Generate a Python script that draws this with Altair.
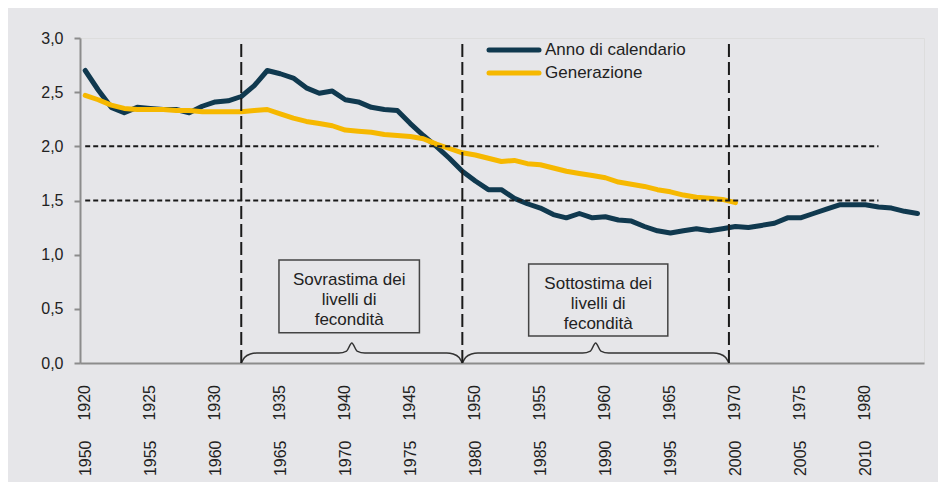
import altair as alt
import pandas as pd

# ---------------- data ----------------
series_names = ["Anno di calendario", "Generazione"]
series_colors = ["#10394f", "#f6b800"]

cal_years = list(range(1950, 2015))
cal_values = [2.70, 2.52, 2.36, 2.31, 2.36, 2.35, 2.34, 2.34, 2.31, 2.37,
              2.41, 2.42, 2.46, 2.56, 2.70, 2.67, 2.63, 2.54, 2.49, 2.51,
              2.43, 2.41, 2.36, 2.34, 2.33, 2.21, 2.10, 2.00, 1.89, 1.77,
              1.68, 1.60, 1.60, 1.52, 1.47, 1.43, 1.37, 1.34, 1.38, 1.34,
              1.35, 1.32, 1.31, 1.26, 1.22, 1.20, 1.22, 1.24, 1.22, 1.24,
              1.26, 1.25, 1.27, 1.29, 1.34, 1.34, 1.38, 1.42, 1.46, 1.46,
              1.46, 1.44, 1.43, 1.40, 1.38]

gen_cohorts = list(range(1920, 1971))
gen_values = [2.47, 2.43, 2.38, 2.35, 2.34, 2.34, 2.34, 2.33, 2.33, 2.32,
              2.32, 2.32, 2.32, 2.33, 2.34, 2.30, 2.26, 2.23, 2.21, 2.19,
              2.15, 2.14, 2.13, 2.11, 2.10, 2.09, 2.07, 2.02, 1.98, 1.94,
              1.92, 1.89, 1.86, 1.87, 1.84, 1.83, 1.80, 1.77, 1.75, 1.73,
              1.71, 1.67, 1.65, 1.63, 1.60, 1.58, 1.55, 1.53, 1.52, 1.51,
              1.48]
cohort_lag = 30  # cohort plotted at calendar year cohort + 30

cal_ticks = [1950, 1955, 1960, 1965, 1970, 1975, 1980, 1985, 1990, 1995, 2000, 2005, 2010]
gen_ticks = [1920, 1925, 1930, 1935, 1940, 1945, 1950, 1955, 1960, 1965, 1970, 1975, 1980]
y_ticks = [0.0, 0.5, 1.0, 1.5, 2.0, 2.5, 3.0]

ref_levels = [2.0, 1.5]
ref_span = [1950, 2011]
period_bounds = [1962, 1979, 1999.5]

box_texts = ["Sovrastima dei\nlivelli di\nfecondità", "Sottostima dei\nlivelli di\nfecondità"]
box_x = [(1964.9, 1975.7), (1984.1, 1994.8)]
box_y = [(0.28, 0.95), (0.25, 0.915)]
box_text_y = [0.766, 0.729]

# ---------------- layout / style ----------------
W, H = 844, 325
FONT = "Liberation Sans"
TXT = "#222222"
AX = "#8c8c8c"
BG = "#e6e6e9"
x_scale = alt.Scale(domain=[1949.6, 2014.5], nice=False, zero=False)
y_scale = alt.Scale(domain=[0, 3], nice=False)

cal_df = pd.DataFrame({"x": cal_years, "value": cal_values, "series": series_names[0]})
gen_df = pd.DataFrame({"x": [c + cohort_lag for c in gen_cohorts], "value": gen_values,
                       "series": series_names[1]})

x_axis = alt.Axis(values=cal_ticks, format="d", labelAngle=270, labelAlign="right",
                  labelBaseline="middle", labelPadding=77, ticks=False, tickSize=0,
                  domainColor=AX, domainWidth=2, grid=False, title=None,
                  labelFont=FONT, labelFontSize=16, labelColor=TXT, labelOverlap=False,
                  labelFlush=False, labelBound=False)
y_axis = alt.Axis(values=y_ticks, labelExpr="replace(format(datum.value, '.1f'), '.', ',')",
                  tickSize=6, tickColor=AX, tickWidth=2, domainColor=AX, domainWidth=2,
                  labelPadding=11, grid=False, title=None, labelFont=FONT,
                  labelFontSize=16, labelColor=TXT)


def X(field, **kw):
    return alt.X(field, scale=x_scale, title=None, **kw)


def Y(field, **kw):
    return alt.Y(field, scale=y_scale, title=None, **kw)


cal_line = alt.Chart(cal_df).mark_line(strokeWidth=5, color=series_colors[0],
                                       strokeJoin="round", strokeCap="round").encode(
    x=X("x:Q", axis=x_axis),
    y=Y("value:Q", axis=y_axis),
)
gen_line = alt.Chart(gen_df).mark_line(strokeWidth=5, color=series_colors[1],
                                       strokeJoin="round", strokeCap="round").encode(
    x=X("x:Q"),
    y=Y("value:Q"),
)

# second row of x labels (generations)
gen_lbl_df = pd.DataFrame({"x": cal_ticks, "label": [str(g) for g in gen_ticks]})
gen_labels = alt.Chart(gen_lbl_df).mark_text(angle=270, align="right", baseline="middle",
                                             font=FONT, fontSize=16, color=TXT).encode(
    x=X("x:Q"),
    y=alt.value(H + 22),
    text="label:N",
)

# horizontal reference lines
href_df = pd.DataFrame({"y": ref_levels, "x0": ref_span[0], "x1": ref_span[1]})
hrefs = alt.Chart(href_df).mark_rule(color="#1a1a1a", strokeWidth=2, strokeDash=[5, 3]).encode(
    x=X("x0:Q"), x2="x1:Q",
    y=Y("y:Q"),
)

# vertical period lines
vref_df = pd.DataFrame({"x": period_bounds, "y0": 0.0, "y1": 2.98})
vrefs = alt.Chart(vref_df).mark_rule(color="#1a1a1a", strokeWidth=2, strokeDash=[13, 5]).encode(
    x=X("x:Q"),
    y=Y("y0:Q"), y2="y1:Q",
)

# annotation boxes
box_df = pd.DataFrame({
    "x0": [b[0] for b in box_x], "x1": [b[1] for b in box_x],
    "y0": [b[0] for b in box_y], "y1": [b[1] for b in box_y],
    "xc": [(b[0] + b[1]) / 2 for b in box_x], "yt": box_text_y,
    "text": box_texts,
})
boxes = alt.Chart(box_df).mark_rect(fill=BG, stroke="#444444", strokeWidth=1.5).encode(
    x=X("x0:Q"), x2="x1:Q",
    y=Y("y0:Q"), y2="y1:Q",
)
box_labels = alt.Chart(box_df).mark_text(lineBreak="\n", lineHeight=20, align="center",
                                         baseline="middle", font=FONT, fontSize=17,
                                         color=TXT).encode(
    x=X("xc:Q"),
    y=Y("yt:Q"),
    text="text:N",
)


# curly braces spanning the two periods
def brace(a, b, key):
    m = (a + b) / 2
    pts = [(a, 0.0), (a + 0.25, 0.05), (a + 0.7, 0.083), (a + 1.2, 0.092),
           (m - 1.0, 0.092), (m - 0.4, 0.11), (m, 0.185), (m + 0.4, 0.11), (m + 1.0, 0.092),
           (b - 1.2, 0.092), (b - 0.7, 0.083), (b - 0.25, 0.05), (b, 0.0)]
    return [{"x": p[0], "y": p[1], "k": key, "o": i} for i, p in enumerate(pts)]


brace_rows = brace(period_bounds[0], period_bounds[1], "a") + brace(period_bounds[1], period_bounds[2], "b")
braces = alt.Chart(pd.DataFrame(brace_rows)).mark_line(color="#333333", strokeWidth=1.5,
                                                        interpolate="monotone").encode(
    x=X("x:Q"),
    y=Y("y:Q"),
    detail="k:N", order="o:Q",
)

# legend
leg_layers = []
for i, (name, col) in enumerate(zip(series_names, series_colors)):
    ldf = pd.DataFrame({"series": [name]})
    ypix = 12 + i * 23
    leg_layers.append(alt.Chart(ldf).mark_rule(color=col, strokeWidth=5, strokeCap="round").encode(
        x=alt.value(409), x2=alt.value(459), y=alt.value(ypix)))
    leg_layers.append(alt.Chart(ldf).mark_text(align="left", baseline="middle", font=FONT,
                                               fontSize=17, color=TXT).encode(
        x=alt.value(465), y=alt.value(ypix), text="series:N"))

chart = alt.layer(
    cal_line, gen_line, boxes, box_labels, braces, hrefs, vrefs, gen_labels, *leg_layers
).properties(
    width=W, height=H, background=BG,
    padding={"left": 72, "top": 30, "right": 14, "bottom": 119},
    autosize=alt.AutoSizeParams(type="none"),
).configure_view(stroke=None, fill=BG).configure(font=FONT)

chart.save("out.html", embed_options={"renderer": "svg", "actions": False})
